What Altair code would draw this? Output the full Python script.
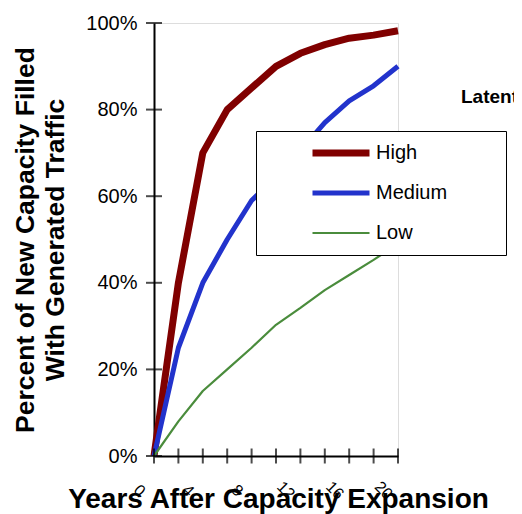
import altair as alt
import pandas as pd

# ---- data ----
years = [0, 2, 4, 6, 8, 10, 12, 14, 16, 18, 20]
high = [0, 40, 70, 80, 85, 90, 93, 95, 96.5, 97.2, 98.2]
medium = [0, 25, 40, 50, 59, 64.5, 70.5, 77, 82, 85.5, 90]
low = [0, 8, 15, 20, 25, 30.3, 34.2, 38.3, 41.8, 45.3, 49]
series = ["High", "Medium", "Low"]
colors = ["#800000", "#2233cc", "#4a8c3c"]
widths = [7, 5, 2.2]
y_ticks = [0, 20, 40, 60, 80, 100]
x_labels = [0, 4, 8, 12, 16, 20]

rows = []
for name, vals in zip(series, [high, medium, low]):
    for yr, v in zip(years, vals):
        rows.append({"year": yr, "pct": v, "series": name})
df = pd.DataFrame(rows)

FONT = "Liberation Sans"

leg = alt.Legend(
    title="MMMMM", titleOrient="right", titleColor="white", titleFontSize=10,
    titlePadding=5, titleFont=FONT,
    orient="none", legendX=102, legendY=108, padding=12,
    symbolType="stroke", symbolSize=3249,
    clipHeight=20, rowPadding=20,
    symbolOffset=41, labelOffset=3, labelFontSize=20, labelColor="black",
    labelFont=FONT, strokeColor="black", fillColor="white",
)

x_enc = alt.X(
    "year:Q",
    scale=alt.Scale(domain=[0, 20], nice=False),
    axis=alt.Axis(
        values=x_labels, title="Years After Capacity Expansion",
        titleFontSize=28, titleFontWeight="bold", titleFont=FONT,
        titleX=124, titleY=51, titleBaseline="alphabetic", titleAlign="center",
        labelAngle=45, labelFontSize=16, labelFont=FONT, labelAlign="center",
        labelBaseline="middle", labelOffset=-15, labelPadding=34,
        ticks=False, tickSize=0, grid=False, domainColor="black", domainWidth=2,
        labelColor="black", titleColor="black", labelOverlap=False, labelFlush=False,
    ),
)
y_enc = alt.Y(
    "pct:Q",
    scale=alt.Scale(domain=[0, 100], nice=False),
    axis=alt.Axis(
        values=y_ticks, labelExpr="datum.value + '%'", labelFontSize=20,
        labelFont=FONT, labelPadding=17, ticks=False, tickSize=0, grid=False,
        domainWidth=2, domainColor="black", labelColor="black",
        title=["Percent of New Capacity Filled", "With Generated Traffic"],
        titleFontSize=26.5, titleFontWeight="bold", titleFont=FONT, titleColor="black",
        titleAngle=270, titleX=-121, titleY=216.5, titleAlign="center",
        titleBaseline="alphabetic", titleLineHeight=30,
    ),
)

lines = alt.Chart(df).mark_line(strokeJoin="round").encode(
    x=x_enc,
    y=y_enc,
    color=alt.Color("series:N", scale=alt.Scale(domain=series, range=colors), legend=leg),
    strokeWidth=alt.StrokeWidth(
        "series:N", scale=alt.Scale(type="ordinal", domain=series, range=widths), legend=None
    ),
    order=alt.Order("year:Q"),
)

xt = alt.Chart(pd.DataFrame({"year": years})).mark_tick(
    orient="vertical", size=15, thickness=2, color="black"
).encode(x=alt.X("year:Q"), y=alt.datum(0))

yt = alt.Chart(pd.DataFrame({"pct": y_ticks})).mark_tick(
    orient="horizontal", size=16, thickness=2, color="black"
).encode(y=alt.Y("pct:Q"), x=alt.datum(0))

chart = alt.layer(lines, xt, yt).properties(
    width=244, height=433,
    autosize=alt.AutoSizeParams(type="none"),
    padding={"left": 146, "top": 15, "right": 116, "bottom": 58},
    title=alt.TitleParams(
        "Latent Demand", anchor="start", frame="group", dx=307, dy=109, offset=0,
        fontSize=19, fontWeight="bold", font=FONT, baseline="alphabetic", color="black",
    ),
).configure_view(stroke=None).configure_legend(strokeWidth=2).configure(background="white")

chart.save("out.html", embed_options={"renderer": "svg", "actions": False})
